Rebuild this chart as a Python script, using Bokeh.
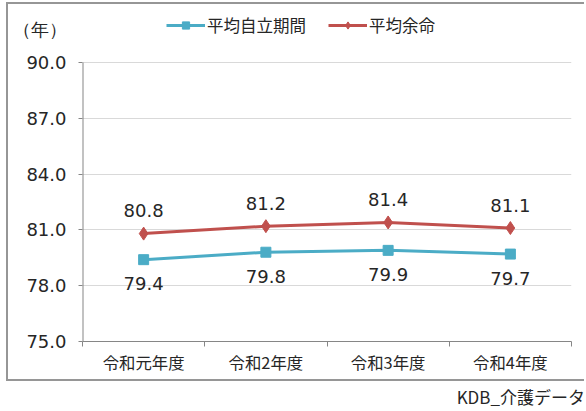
from bokeh.plotting import figure
from bokeh.models import (FixedTicker, Legend, LegendItem, Div, Range1d,
                          ColumnDataSource, LabelSet)
from bokeh.core.properties import value
from bokeh.layouts import column
from bokeh.embed import file_html
from bokeh.resources import INLINE

categories = ["令和元年度", "令和2年度", "令和3年度", "令和4年度"]
jiritsu = [79.4, 79.8, 79.9, 79.7]
yomei = [80.8, 81.2, 81.4, 81.1]
series_names = ["平均自立期間", "平均余命"]
y_ticks = [75.0, 78.0, 81.0, 84.0, 87.0, 90.0]
y_unit = "（年）"
source_note = "KDB_介護データ"

FONT = "Noto Sans CJK JP"
NUMFONT = "DejaVu Sans"
TXT = "#262626"
BLUE = "#4bacc6"
RED = "#c0504d"
AX = "#868686"
BORDER = "2px solid #969696"

# layout (screen px inside the canvas)
W, H = 578, 379
F_LEFT, F_RIGHT, F_TOP, F_BOT = 74, 15, 8, 42   # frame extends up to hold legend
AXIS_TOP_PX = 50        # distance from frame top to the 90.0 line
UNIT_PX = 17            # distance from frame top to the unit label
plot_h = H - F_TOP - F_BOT
px_per_unit = (plot_h - AXIS_TOP_PX) / (y_ticks[-1] - y_ticks[0])
y_top = y_ticks[-1] + AXIS_TOP_PX / px_per_unit
y_unit_pos = y_ticks[-1] + (AXIS_TOP_PX - UNIT_PX) / px_per_unit

x = [i + 0.5 for i in range(len(categories))]
src = ColumnDataSource(dict(
    x=x, j=jiritsu, y=yomei,
    jl=[f"{v:.1f}" for v in jiritsu], yl=[f"{v:.1f}" for v in yomei]))

p = figure(width=W, height=H, output_backend="svg", toolbar_location=None,
           x_range=Range1d(0, len(categories)), y_range=Range1d(y_ticks[0], y_top),
           min_border_left=F_LEFT, min_border_right=F_RIGHT, min_border_top=F_TOP,
           min_border_bottom=F_BOT)
p.outline_line_color = None
p.styles = {"border-left": BORDER, "border-top": BORDER, "border-bottom": BORDER,
            "margin-left": "6px", "margin-top": "2px"}

# x axis: labels at category centres, tick marks at boundaries
xa = p.xaxis[0]
xa.ticker = FixedTicker(ticks=x, minor_ticks=list(range(len(categories) + 1)))
xa.major_label_overrides = {xv: c for xv, c in zip(x, categories)}
xa.major_tick_out = 0
xa.major_tick_in = 0
xa.minor_tick_out = 5
xa.minor_tick_in = 0
xa.minor_tick_line_color = AX
xa.axis_line_color = AX
xa.major_label_standoff = 3
xa.major_label_text_font = FONT
xa.major_label_text_font_size = "16.4px"
xa.major_label_text_color = TXT

# y axis: numeric labels plus the unit label on top
ya = p.yaxis[0]
ya.ticker = FixedTicker(ticks=y_ticks + [y_unit_pos], minor_ticks=y_ticks)
overrides = {t: f"{t:.1f}" for t in y_ticks}
overrides[y_unit_pos] = y_unit
ya.major_label_overrides = overrides
ya.major_tick_line_color = None
ya.major_tick_out = 0
ya.major_tick_in = 0
ya.minor_tick_out = 4
ya.minor_tick_in = 0
ya.minor_tick_line_color = AX
ya.axis_line_color = None
ya.major_label_standoff = 12
ya.major_label_text_font = NUMFONT
ya.major_label_text_font_size = "18px"
ya.major_label_text_color = TXT

p.xgrid.visible = False
p.ygrid.ticker = FixedTicker(ticks=y_ticks)
p.ygrid.grid_line_color = "#d9d9d9"

# y axis line only over the value range
p.segment(x0=[0], y0=[y_ticks[0]], x1=[0], y1=[y_ticks[-1]], line_color=AX, line_width=2)

# series
r1 = p.line("x", "j", source=src, color=BLUE, line_width=3)
m1 = p.scatter("x", "j", source=src, marker="square", size=10, color=BLUE)
r2 = p.line("x", "y", source=src, color=RED, line_width=3)
m2 = p.scatter("x", "y", source=src, marker="diamond", size=13, color=RED)

p.add_layout(LabelSet(x="x", y="y", text="yl", source=src, y_offset=23,
                      text_align="center", text_baseline="middle",
                      text_font=value(NUMFONT), text_font_size=value("18px"),
                      text_color=TXT))
p.add_layout(LabelSet(x="x", y="j", text="jl", source=src, y_offset=-24,
                      text_align="center", text_baseline="middle",
                      text_font=value(NUMFONT), text_font_size=value("18px"),
                      text_color=TXT))

legend = Legend(items=[LegendItem(label=series_names[0], renderers=[r1, m1]),
                       LegendItem(label=series_names[1], renderers=[r2, m2])],
                orientation="horizontal", location=(84, plot_h - 25),
                glyph_width=39, glyph_height=18, label_height=18,
                label_standoff=2, spacing=22, padding=0, margin=0,
                border_line_color=None, background_fill_alpha=0,
                label_text_font=FONT, label_text_font_size="16.5px",
                label_text_color=TXT)
p.add_layout(legend)

note = Div(text=source_note, width=580, height=22,
           styles={"text-align": "right", "font-family": FONT, "font-size": "17px",
                   "color": TXT, "box-sizing": "border-box",
                   "line-height": "22px", "white-space": "nowrap"})

layout = column(p, note, spacing=0)
open("out.html", "w").write(file_html(layout, INLINE))
